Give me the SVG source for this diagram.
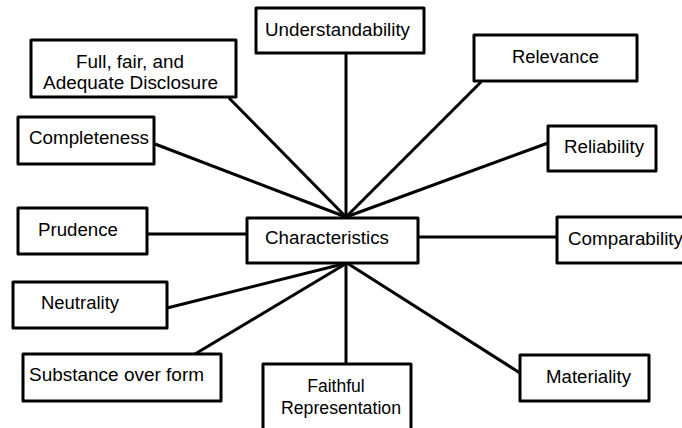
<svg xmlns="http://www.w3.org/2000/svg" width="682" height="428" viewBox="0 0 682 428">
<style>
.box{fill:#fff;stroke:#000;stroke-width:3;stroke-linejoin:round}
.ln{stroke:#000;stroke-width:3;fill:none}
text{font-family:"Liberation Sans",Arial,sans-serif;font-size:17.5px;fill:#000}
</style>
<rect width="682" height="428" fill="#fff"/>
<g id="connectors">
<line class="ln" x1="346" y1="53" x2="346" y2="217"/>
<line class="ln" x1="229" y1="98" x2="346" y2="217"/>
<line class="ln" x1="155" y1="144" x2="346" y2="217"/>
<line class="ln" x1="481" y1="82" x2="346" y2="217"/>
<line class="ln" x1="548" y1="143" x2="346" y2="217"/>
<line class="ln" x1="147" y1="234" x2="247" y2="234"/>
<line class="ln" x1="418" y1="237" x2="557" y2="237"/>
<line class="ln" x1="167" y1="308" x2="347" y2="263"/>
<line class="ln" x1="195" y1="354" x2="347" y2="263"/>
<line class="ln" x1="346" y1="263" x2="346" y2="364"/>
<line class="ln" x1="520" y1="373" x2="347" y2="263"/>
</g>
<g id="understandability"><rect class="box" x="256" y="8" width="168" height="45"/><text x="265" y="36" textLength="145" lengthAdjust="spacingAndGlyphs">Understandability</text></g>
<g id="full-fair"><rect class="box" x="31" y="40" width="205" height="57"/><text x="76" y="68" textLength="108" lengthAdjust="spacingAndGlyphs">Full, fair, and</text><text x="43" y="89" textLength="175" lengthAdjust="spacingAndGlyphs">Adequate Disclosure</text></g>
<g id="completeness"><rect class="box" x="18" y="117" width="136" height="47"/><text x="29" y="144" textLength="120" lengthAdjust="spacingAndGlyphs">Completeness</text></g>
<g id="relevance"><rect class="box" x="474" y="35" width="163" height="46"/><text x="512" y="63" textLength="87" lengthAdjust="spacingAndGlyphs">Relevance</text></g>
<g id="reliability"><rect class="box" x="548" y="126" width="108" height="45"/><text x="564" y="153" textLength="80" lengthAdjust="spacingAndGlyphs">Reliability</text></g>
<g id="characteristics"><rect class="box" x="247" y="218" width="171" height="45"/><text x="265" y="244" textLength="124" lengthAdjust="spacingAndGlyphs">Characteristics</text></g>
<g id="prudence"><rect class="box" x="18" y="208" width="129" height="46"/><text x="38" y="236" textLength="80" lengthAdjust="spacingAndGlyphs">Prudence</text></g>
<g id="comparability"><rect class="box" x="557" y="217" width="140" height="46"/><text x="568" y="245" textLength="115" lengthAdjust="spacingAndGlyphs">Comparability</text></g>
<g id="neutrality"><rect class="box" x="13" y="282" width="154" height="46"/><text x="41" y="309" textLength="78" lengthAdjust="spacingAndGlyphs">Neutrality</text></g>
<g id="substance"><rect class="box" x="23" y="354" width="198" height="47"/><text x="29" y="381" textLength="175" lengthAdjust="spacingAndGlyphs">Substance over form</text></g>
<g id="faithful"><rect class="box" x="263" y="364" width="148" height="80"/><text x="336" y="392" text-anchor="middle">Faithful</text><text x="341" y="414" text-anchor="middle" textLength="120" lengthAdjust="spacingAndGlyphs">Representation</text></g>
<g id="materiality"><rect class="box" x="520" y="355" width="129" height="46"/><text x="546" y="383" textLength="85" lengthAdjust="spacingAndGlyphs">Materiality</text></g>
</svg>
